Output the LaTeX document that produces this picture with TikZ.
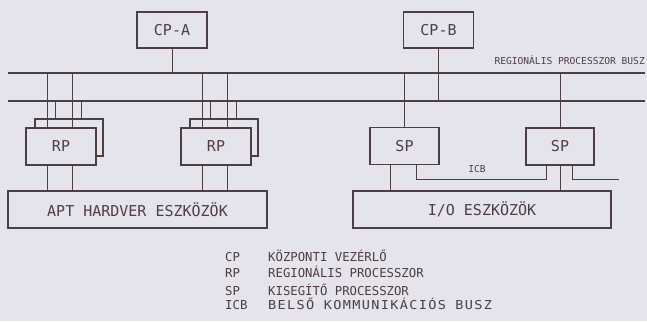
\documentclass[tikz,border=0pt]{standalone}
\usepackage{fontspec}
\newfontfamily\plotter{DejaVu Sans Mono}
\usetikzlibrary{positioning,calc}
\definecolor{papir}{RGB}{229,228,236}
\definecolor{tinta}{RGB}{78,62,66}

\begin{document}
\begin{tikzpicture}[
  x=1pt, y=-1pt,
  doboz/.style={rectangle, draw=tinta, fill=papir, line width=1.1pt, inner sep=0pt,
                text=tinta, font=\plotter\fontsize{15}{15}\selectfont},
  cpdoboz/.style={doboz, minimum width=70pt, minimum height=36pt},
  pdoboz/.style={doboz, minimum width=69pt, minimum height=37pt},
  eszkoz/.style={doboz, minimum width=259pt, minimum height=37pt},
  busz/.style={draw=tinta, line width=1.7pt},
  vezetek/.style={draw=tinta, line width=1pt},
  felirat/.style={font=\plotter\fontsize{9.6}{9.6}\selectfont, text=tinta, inner sep=0pt},
  jelmagy/.style={font=\plotter\fontsize{12.3}{12.3}\selectfont, text=tinta, inner sep=0pt, anchor=base west}
]
\fill[papir] (0,0) rectangle (647,321);
\useasboundingbox (0,0) rectangle (647,321);

% ---------------- Buszok ----------------
\coordinate (b1w) at (8,73);   \coordinate (b1e) at (645,73);
\coordinate (b2w) at (8,101);  \coordinate (b2e) at (645,101);
\draw[busz] (b1w) -- (b1e);
\draw[busz] (b2w) -- (b2e);
\node[felirat, anchor=base east] (buszlab) at (645,64) {REGIONÁLIS PROCESSZOR BUSZ};

% ---------------- Központi vezérlők ----------------
\node[cpdoboz] (cpa) at (172,30) {CP-A};
\node[cpdoboz] (cpb) at (438.5,30) {CP-B};
\draw[vezetek] (cpa.south) -- (cpa |- b1w);
\draw[vezetek] (cpb.south) -- (cpb |- b2w);

% ---------------- Eszközök ----------------
\node[eszkoz] (apt) at (137.5,209.5) {APT HARDVER ESZKÖZÖK};
\node[eszkoz, minimum width=258pt] (io) at (482,209.5) {I/O ESZKÖZÖK};

% ---------------- Regionális processzorok (kettőzve) ----------------
\node[pdoboz, minimum width=68pt] (rpa2) at (69,137.5) {};
\node[pdoboz, minimum width=70pt] (rpa) at (61,146.5) {RP};
\node[pdoboz, minimum width=68pt] (rpb2) at (224,137.5) {};
\node[pdoboz, minimum width=70pt] (rpb) at (216,146.5) {RP};

\foreach \r in {rpa,rpb} {
  \path ($(\r.north west)+(22,0)$) coordinate (\r-a)
        ($(\r.north west)+(47,0)$) coordinate (\r-b)
        ($(\r2.north west)+(21,0)$) coordinate (\r-c)
        ($(\r2.north west)+(47,0)$) coordinate (\r-d)
        ($(\r.south west)+(22,0)$) coordinate (\r-e)
        ($(\r.south west)+(47,0)$) coordinate (\r-f);
  \draw[vezetek] (\r-a) -- (\r-a |- b1w);
  \draw[vezetek] (\r-b) -- (\r-b |- b1w);
  \draw[vezetek] (\r-c) -- (\r-c |- b2w);
  \draw[vezetek] (\r-d) -- (\r-d |- b2w);
  \draw[vezetek] (\r-e) -- (\r-e |- apt.north);
  \draw[vezetek] (\r-f) -- (\r-f |- apt.north);
}

% ---------------- Kisegítő processzorok ----------------
\node[pdoboz] (spa) at (404.5,146) {SP};
\node[pdoboz, minimum width=68pt] (spb) at (560,146.5) {SP};

\coordinate (icbj) at (619,179);
\draw[vezetek] (spa.north) -- (spa.north |- b1w);
\draw[vezetek] (spb.north) -- (spb.north |- b1w);
\draw[vezetek] ($(spa.south west)+(21,0)$) coordinate (spa-a) -- (spa-a |- io.north);
\draw[vezetek] (spb.south) -- (spb.south |- io.north);
\draw[vezetek] ($(spa.south west)+(47,0)$) coordinate (spa-b) -- (spa-b |- icbj)
               -| ($(spb.south west)+(21,0)$);
\draw[vezetek] ($(spb.south west)+(47,0)$) coordinate (spb-b) -- (spb-b |- icbj) -- (icbj);
\node[felirat, anchor=base] (icblab) at (477,172) {ICB};

% ---------------- Jelmagyarázat ----------------
\foreach \rov/\nev/\y in {CP/KÖZPONTI VEZÉRLŐ/261, RP/REGIONÁLIS PROCESSZOR/277,
                          SP/KISEGÍTŐ PROCESSZOR/295} {
  \node[jelmagy] (j\rov) at (225,\y) {\rov};
  \node[jelmagy] (jt\rov) at (268,\y) {\nev};
}
\node[jelmagy] (jICB) at (225,309) {ICB};
\node[jelmagy] (jtICB) at (268,309)
  {\scalebox{1.1}[1]{\addfontfeature{LetterSpace=10}BELSŐ KOMMUNIKÁCIÓS BUSZ}};

\end{tikzpicture}
\end{document}
